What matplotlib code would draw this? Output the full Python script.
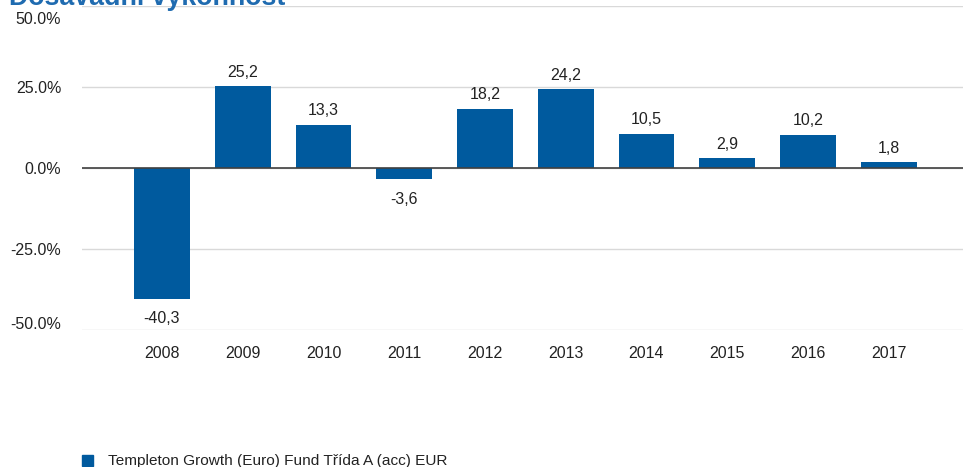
import matplotlib
matplotlib.use("Agg")
import matplotlib.pyplot as plt
from matplotlib.patches import Rectangle
import matplotlib.transforms as mtransforms

years = ["2008", "2009", "2010", "2011", "2012", "2013", "2014", "2015", "2016", "2017"]
values = [-40.3, 25.2, 13.3, -3.6, 18.2, 24.2, 10.5, 2.9, 10.2, 1.8]
yticks = [-50, -25, 0, 25, 50]
ytick_labels = ["-50.0%", "-25.0%", "0.0%", "25.0%", "50.0%"]
title = "Dosavadní výkonnost"
legend_label = "Templeton Growth (Euro) Fund Třída A (acc) EUR"

blue = "#005A9E"
plt.rcParams['font.family'] = ['Liberation Sans', 'DejaVu Sans']

W, H = 965, 467
fig = plt.figure(figsize=(W / 100, H / 100), dpi=100)
ax = fig.add_axes([82 / W, 1 - 330 / H, (963 - 82) / W, (330 - 5.5) / H])

x = list(range(len(years)))
ax.bar(x, values, width=0.69, color=blue, zorder=3)
ax.set_xlim(-0.99, 9.92)
ax.set_ylim(-50, 50)
ax.set_yticks(yticks)
ax.set_yticklabels([])
ax.set_xticks(x)
ax.set_xticklabels(years, fontsize=11.5, color="#222222")
ax.tick_params(axis="both", length=0)
ax.tick_params(axis="x", pad=11.5)
for s in ax.spines.values():
    s.set_visible(False)
ax.grid(axis="y", color="#D9D9D9", linewidth=1, zorder=0)
ax.axhline(0, color="#404040", linewidth=1.2, zorder=4)

# y tick labels: top and bottom ones nudged inside the figure as in the reference
label_offsets = {50: -10, 25: -1.5, 0: -1.5, -25: -1.5, -50: 4}
trans = mtransforms.blended_transform_factory(ax.transAxes, ax.transData)
for t, lab in zip(yticks, ytick_labels):
    ax.annotate(lab, (0, t), xycoords=trans, xytext=(-15, label_offsets[t]),
                textcoords="offset points", ha="right", va="center",
                fontsize=11.5, color="#222222", annotation_clip=False)

for xi, v in zip(x, values):
    lab = f"{v:.1f}".replace(".", ",")
    if v >= 0:
        ax.annotate(lab, (xi, v), xytext=(0, 4.5), textcoords="offset points",
                    ha="center", va="bottom", fontsize=11.5, color="#222222")
    else:
        ax.annotate(lab, (xi, v), xytext=(0, -9), textcoords="offset points",
                    ha="center", va="top", fontsize=11.5, color="#222222")

fig.text(9 / W, 1 - 5 / H, title, fontsize=19.3, fontweight="bold", color="#1F6BB0",
         ha="left", va="baseline")

fig.patches.append(Rectangle((82 / W, 1 - 466 / H), 11 / W, 11 / H,
                             transform=fig.transFigure, color=blue, figure=fig))
fig.text(108 / W, 1 - 461 / H, legend_label, fontsize=11.1, color="#222222",
         ha="left", va="center")

fig.savefig("out.png", dpi=100)
